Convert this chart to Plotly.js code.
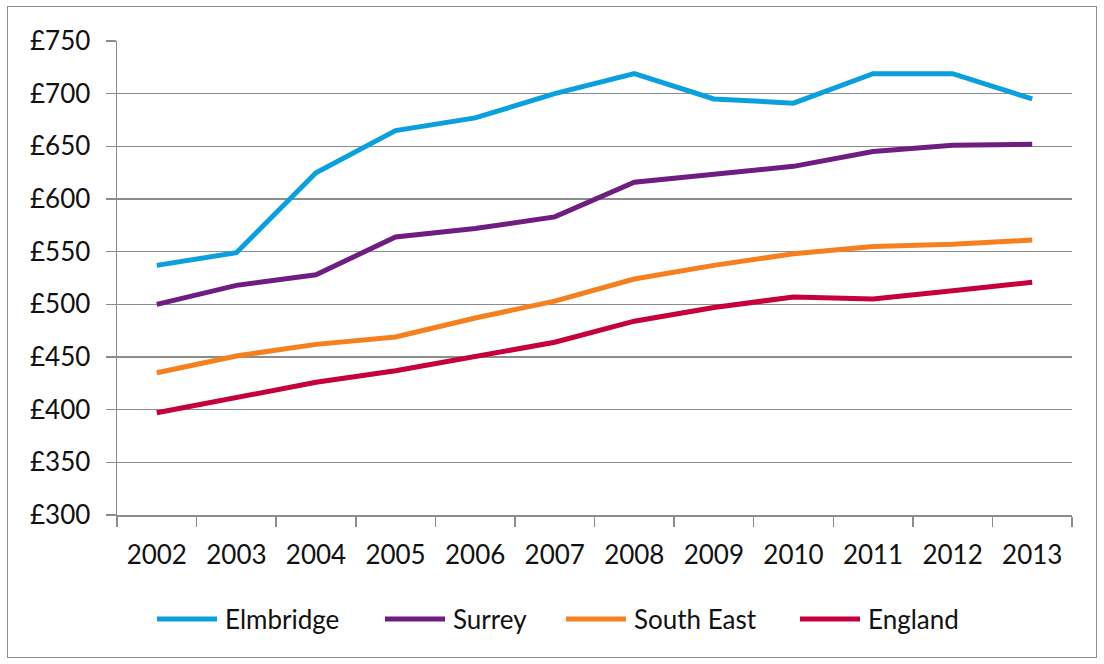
<!DOCTYPE html>
<html>
<head>
<meta charset="utf-8">
<script src="https://cdn.plot.ly/plotly-3.0.1.min.js"></script>
<style>
html,body{margin:0;padding:0;background:#fff;}
#wrap{position:relative;width:1104px;height:664px;}
#chart{width:1104px;height:664px;}
#frame{position:absolute;left:7px;top:6px;width:1090px;height:652px;border:1.5px solid #8c8c8c;pointer-events:none;box-sizing:border-box;}
</style>
</head>
<body>
<div id="wrap"><div id="chart"></div><div id="frame"></div></div>
<script>
const years = ['2002','2003','2004','2005','2006','2007','2008','2009','2010','2011','2012','2013'];
const elmbridge = [537, 549, 625, 665, 677, 700, 719, 695, 691, 719, 719, 695];
const surrey = [500, 518, 528, 564, 572, 583, 616, 624, 631, 645, 651, 652];
const southEast = [435, 451, 462, 469, 487, 503, 524, 537, 548, 555, 557, 561];
const england = [397, 412, 426, 437, 451, 464, 484, 497, 507, 505, 513, 521];
const seriesNames = ['Elmbridge', 'Surrey', 'South East', 'England'];
const seriesColors = ['#0AA0DE', '#6F1D80', '#F7801E', '#C5003C'];
const seriesValues = [elmbridge, surrey, southEast, england];

const traces = seriesValues.map((v, i) => ({
  x: years, y: v, name: seriesNames[i], type: 'scatter', mode: 'lines',
  line: {color: seriesColors[i], width: 5}, showlegend: false
}));

// Custom legend (Excel style: long line samples)
const M = {l: 117, r: 32, t: 41, b: 149};
const W = 1104, H = 664;
const pw = W - M.l - M.r, ph = H - M.t - M.b;
const px = x => (x - M.l) / pw;
const py = y => (H - M.b - y) / ph;
const legendStarts = [157, 385, 566, 800];
const legendY = 619;
const shapes = [], annotations = [];
const font = {family: 'Lato, "Open Sans", sans-serif', size: 26, color: '#111'};
seriesNames.forEach((n, i) => {
  const x0 = legendStarts[i];
  shapes.push({type: 'line', xref: 'paper', yref: 'paper', x0: px(x0), x1: px(x0 + 60),
    y0: py(legendY), y1: py(legendY), line: {color: seriesColors[i], width: 5}});
  annotations.push({xref: 'paper', yref: 'paper', x: px(x0 + 66), y: py(legendY),
    xanchor: 'left', yanchor: 'middle', text: n, showarrow: false, font: font});
});

const layout = {
  width: W, height: H,
  margin: M,
  paper_bgcolor: '#fff', plot_bgcolor: '#fff',
  font: font,
  showlegend: false,
  shapes: shapes, annotations: annotations,
  xaxis: {type: 'category', range: [-0.5, 11.5], tickson: 'boundaries', ticks: 'outside', ticklen: 10, tickwidth: 1.5,
          tickcolor: '#8c8c8c', showline: true, linecolor: '#8c8c8c', linewidth: 1.5,
          showgrid: false, zeroline: false, tickfont: font, ticklabelstandoff: 16, fixedrange: true},
  yaxis: {range: [300, 750], dtick: 50, tick0: 300, tickprefix: '£', ticks: 'outside', ticklen: 10,
          tickwidth: 1.5, tickcolor: '#8c8c8c', showline: true, linecolor: '#8c8c8c', linewidth: 1.5,
          showgrid: true, gridcolor: '#8c8c8c', gridwidth: 1.5, zeroline: false, tickfont: font,
          ticklabelstandoff: 10, fixedrange: true}
};
Plotly.newPlot('chart', traces, layout, {displayModeBar: false, staticPlot: true});
</script>
</body>
</html>
